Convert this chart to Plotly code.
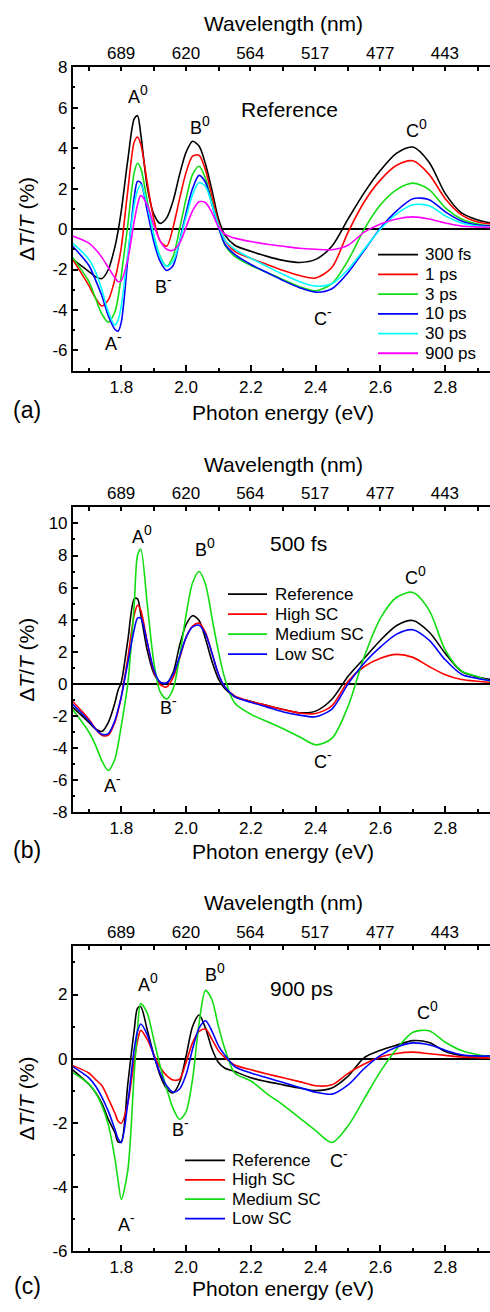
import plotly.graph_objects as go

# ---------------- data ----------------
ENERGY = [1.65, 1.70, 1.72, 1.74, 1.76, 1.78, 1.79, 1.80, 1.82, 1.84, 1.85, 1.86,
          1.88, 1.90, 1.92, 1.94, 1.96, 1.98, 2.00, 2.02, 2.04, 2.06, 2.08, 2.10,
          2.12, 2.15, 2.20, 2.25, 2.30, 2.35, 2.40, 2.45, 2.50, 2.55, 2.60, 2.65,
          2.70, 2.75, 2.80, 2.85, 2.90, 2.94]

# panel (a): Reference sample at several delays
A_NAMES = ["300 fs", "1 ps", "3 ps", "10 ps", "30 ps", "900 ps"]
A_300FS = [-1.5, -2.1, -2.35, -2.45, -2.0, -0.9, -0.1, 0.9, 3.4, 5.45, 5.6, 4.7,
           2.1, 0.75, 0.28, 0.55, 1.4, 2.7, 3.8, 4.34, 4.1, 3.2, 1.9, 0.5,
           -0.3, -0.8, -1.1, -1.35, -1.55, -1.65, -1.5, -0.85, 0.5, 1.8, 2.9, 3.75,
           4.05, 3.3, 1.75, 0.8, 0.45, 0.3]
A_1PS = [-1.5, -2.8, -3.4, -3.8, -3.5, -2.5, -1.8, -0.9, 1.9, 4.3, 4.55, 4.2,
         2.3, 0.5, -0.6, -0.85, 0.1, 1.5, 2.8, 3.6, 3.65, 2.9, 1.6, 0.3,
         -0.55, -1.1, -1.45, -1.75, -2.05, -2.3, -2.42, -1.9, -0.15, 1.35, 2.43, 3.15,
         3.37, 2.7, 1.5, 0.7, 0.35, 0.25]
A_3PS = [-1.4, -2.6, -3.4, -4.2, -4.6, -4.1, -3.4, -2.3, 0.2, 2.8, 3.25, 3.0,
         1.4, -0.3, -1.35, -1.85, -1.35, 0.0, 1.5, 2.7, 3.1, 2.5, 1.3, 0.1,
         -0.8, -1.35, -1.8, -2.15, -2.5, -2.85, -3.05, -2.7, -1.55, 0.0, 1.2, 1.95,
         2.27, 1.95, 1.05, 0.5, 0.25, 0.15]
A_10PS = [-0.85, -1.8, -2.5, -3.3, -4.3, -4.95, -5.05, -4.6, -1.5, 1.6, 2.35, 2.3,
          0.9, -0.6, -1.6, -2.05, -1.8, -0.6, 0.8, 2.0, 2.65, 2.3, 1.2, 0.1,
          -0.75, -1.25, -1.75, -2.15, -2.55, -2.9, -3.12, -2.95, -2.15, -1.05, 0.05, 0.9,
          1.5, 1.45, 0.85, 0.4, 0.2, 0.15]
A_30PS = [-0.7, -1.5, -2.1, -3.0, -4.1, -4.75, -4.5, -3.8, -1.2, 1.2, 1.9, 2.2,
          1.2, -0.3, -1.4, -1.85, -1.6, -0.6, 0.6, 1.7, 2.3, 2.1, 1.2, 0.2,
          -0.55, -1.0, -1.45, -1.85, -2.25, -2.6, -2.82, -2.7, -2.0, -1.0, 0.0, 0.75,
          1.2, 1.15, 0.65, 0.3, 0.15, 0.1]
A_900PS = [-0.35, -0.7, -1.0, -1.4, -1.9, -2.4, -2.6, -2.55, -1.5, 0.4, 1.2, 1.65,
           1.2, 0.2, -0.6, -1.0, -1.05, -0.7, 0.1, 0.9, 1.35, 1.3, 0.8, 0.1,
           -0.25, -0.45, -0.62, -0.75, -0.85, -0.95, -1.0, -1.02, -0.8, -0.15, 0.25, 0.5,
           0.6, 0.5, 0.3, 0.15, 0.1, 0.08]

# panel (b): 500 fs, four samples
B_NAMES = ["Reference", "High SC", "Medium SC", "Low SC"]
B_REF = [-1.45, -2.4, -2.8, -2.97, -2.4, -1.2, -0.4, 0.1, 2.7, 5.3, 5.3, 4.35,
         2.1, 0.67, 0.1, 0.05, 0.7, 2.4, 3.7, 4.25, 3.95, 2.8, 1.4, 0.3,
         -0.3, -0.8, -1.1, -1.35, -1.6, -1.8, -1.7, -0.96, 0.47, 1.6, 2.72, 3.64,
         3.95, 3.23, 1.9, 0.78, 0.43, 0.27]
B_HIGH = [-1.1, -2.2, -2.8, -3.2, -3.2, -2.4, -1.7, -0.8, 1.6, 4.3, 4.9, 4.6,
          2.6, 0.8, -0.05, -0.2, 0.4, 1.6, 2.9, 3.6, 3.78, 3.2, 1.9, 0.6,
          -0.2, -0.75, -1.1, -1.35, -1.6, -1.82, -1.85, -1.37, 0.16, 1.08, 1.6, 1.84,
          1.65, 1.08, 0.57, 0.27, 0.16, 0.1]
B_MEDIUM = [-1.6, -3.0, -3.8, -4.8, -5.4, -4.7, -3.8, -2.6, 0.0, 5.0, 8.0, 8.4,
            5.0, 1.4, -0.5, -0.95, -0.3, 1.7, 4.3, 6.3, 7.0, 6.2, 4.1, 2.0,
            0.3, -1.2, -1.9, -2.35, -2.8, -3.3, -3.8, -3.4, -1.4, 1.7, 4.1, 5.4,
            5.7, 4.6, 2.1, 0.8, 0.45, 0.16]
B_LOW = [-1.27, -2.3, -2.8, -3.15, -3.1, -2.3, -1.6, -0.8, 1.3, 3.4, 4.1, 4.1,
         2.6, 0.9, 0.1, 0.05, 0.6, 1.7, 2.9, 3.55, 3.65, 3.1, 1.9, 0.6,
         -0.2, -0.8, -1.15, -1.45, -1.75, -1.95, -2.05, -1.57, 0.0, 1.3, 2.3, 3.1,
         3.37, 2.72, 1.5, 0.6, 0.33, 0.2]

# panel (c): 900 ps, four samples
C_NAMES = ["Reference", "High SC", "Medium SC", "Low SC"]
C_REF = [-0.35, -0.8, -1.05, -1.4, -1.9, -2.3, -2.6, -2.6, -0.8, 0.9, 1.57, 1.62,
         0.9, 0.13, -0.53, -0.94, -1.07, -0.74, 0.08, 1.0, 1.36, 0.95, 0.3, -0.12,
         -0.3, -0.4, -0.6, -0.72, -0.82, -0.92, -1.0, -0.92, -0.55, 0.03, 0.26, 0.42,
         0.56, 0.5, 0.22, 0.1, 0.08, 0.08]
C_HIGH = [-0.22, -0.45, -0.65, -0.84, -1.25, -1.7, -1.95, -2.02, -1.4, -0.05, 0.55, 0.88,
          0.6, 0.13, -0.28, -0.53, -0.67, -0.64, -0.12, 0.5, 0.85, 0.92, 0.6, 0.24,
          0.03, -0.2, -0.35, -0.48, -0.6, -0.72, -0.85, -0.82, -0.46, -0.17, 0.05, 0.16,
          0.2, 0.15, 0.1, 0.05, 0.03, 0.02]
C_MEDIUM = [-0.43, -0.79, -1.05, -1.46, -2.07, -3.1, -3.8, -4.4, -3.5, -0.43, 0.9, 1.72,
            1.42, 0.6, -0.23, -0.94, -1.56, -1.9, -1.66, -0.64, 1.1, 2.13, 1.83, 1.0,
            0.29, -0.45, -0.7, -1.1, -1.45, -1.85, -2.25, -2.62, -2.1, -1.25, -0.4, 0.3,
            0.82, 0.87, 0.51, 0.25, 0.12, 0.06]
C_LOW = [-0.25, -0.6, -0.85, -1.2, -1.65, -2.2, -2.5, -2.62, -1.4, 0.3, 0.85, 1.08,
         0.75, 0.1, -0.45, -0.85, -1.05, -0.95, -0.5, 0.3, 0.95, 1.18, 0.85, 0.4,
         0.1, -0.25, -0.45, -0.6, -0.75, -0.9, -1.05, -1.11, -0.82, -0.31, 0.1, 0.36,
         0.49, 0.43, 0.26, 0.12, 0.08, 0.08]

# axes
ENERGY_RANGE = [1.65, 2.938]
WAVELENGTH_TICKS = [689, 620, 564, 517, 477, 443]
TOP_MINOR = [1.7, 1.9, 2.1, 2.3, 2.5, 2.7, 2.9]
Y_RANGES = [[-7, 8], [-8, 11], [-6, 3.5]]
Y_TICKS = [[-6, -4, -2, 0, 2, 4, 6, 8],
           [-8, -6, -4, -2, 0, 2, 4, 6, 8, 10],
           [-6, -4, -2, 0, 2]]

# ---------------- styling / layout ----------------
W, H = 490, 1312
FAMILY = "Liberation Sans, Arial, Helvetica, sans-serif"
COL6 = ["#000000", "#ff0000", "#12dd12", "#0000ff", "#00ffff", "#ff00ff"]
COL4 = ["#000000", "#ff0000", "#12dd12", "#0000ff"]


def fnt(size):
    return dict(family=FAMILY, size=size, color="black")


def px(x):
    return x / W


def py(y):
    return 1 - y / H


X_LEFT = 72.7
PANELS = [
    dict(top=59.0, bottom=367.0, names=A_NAMES, series=[A_300FS, A_1PS, A_3PS, A_10PS, A_30PS, A_900PS],
         colors=COL6, title_top=15, title_bot=409, label="(a)",
         legend=dict(x0=378, x1=418, xt=423, y0=249.3, dy=20.0),
         notes=[("A", "0", 1.846, 6.5), ("B", "0", 2.038, 5.0), ("C", "0", 2.707, 4.85),
                ("A", "-", 1.775, -5.7), ("B", "-", 1.93, -2.85), ("C", "-", 2.422, -4.45)],
         tag=("Reference", 2.32, 5.9)),
    dict(top=505.7, bottom=815.0, names=B_NAMES, series=[B_REF, B_HIGH, B_MEDIUM, B_LOW],
         colors=COL4, title_top=462, title_bot=855, label="(b)",
         legend=dict(x0=228, x1=267, xt=273, y0=593.8, dy=20.3),
         notes=[("A", "0", 1.859, 9.16), ("B", "0", 2.053, 8.36), ("C", "0", 2.704, 6.58),
                ("A", "-", 1.77, -6.36), ("B", "-", 1.945, -1.52), ("C", "-", 2.424, -4.9)],
         tag=("500 fs", 2.346, 8.73)),
    dict(top=951.25, bottom=1260.0, names=C_NAMES, series=[C_REF, C_HIGH, C_MEDIUM, C_LOW],
         colors=COL4, title_top=907, title_bot=1298, label="(c)",
         legend=dict(x0=185, x1=225, xt=230, y0=1168.3, dy=19.7),
         notes=[("A", "0", 1.876, 2.29), ("B", "0", 2.082, 2.6), ("C", "0", 2.741, 1.42),
                ("A", "-", 1.815, -5.2), ("B", "-", 1.98, -2.24), ("C", "-", 2.473, -3.2)],
         tag=("900 ps", 2.356, 2.2)),
]

fig = go.Figure()
layout = dict(width=W, height=H, margin=dict(l=0, r=0, t=0, b=0),
              paper_bgcolor="white", plot_bgcolor="white", showlegend=False,
              font=fnt(17))
annotations = []
shapes = []

top_vals = [1239.84 / w for w in WAVELENGTH_TICKS]
top_text = [str(w) for w in WAVELENGTH_TICKS]

for i, p in enumerate(PANELS):
    xb = "x" if i == 0 else f"x{2 * i + 1}"
    xt = f"x{2 * i + 2}"
    yn = "y" if i == 0 else f"y{i + 1}"
    xb_key = "xaxis" if i == 0 else f"xaxis{2 * i + 1}"
    xt_key = f"xaxis{2 * i + 2}"
    y_key = "yaxis" if i == 0 else f"yaxis{i + 1}"

    for name, vals, col in zip(p["names"], p["series"], p["colors"]):
        fig.add_trace(go.Scatter(x=ENERGY, y=vals, mode="lines", name=name,
                                 line=dict(color=col, width=1.6, shape="spline", smoothing=0.8),
                                 xaxis=xb, yaxis=yn, showlegend=False))

    common = dict(range=ENERGY_RANGE, showline=True, linecolor="black", linewidth=1.5,
                  ticks="inside", tickcolor="black", tickwidth=1.5, ticklen=6,
                  showgrid=False, zeroline=False, tickfont=fnt(17))
    layout[xb_key] = dict(common, domain=[px(X_LEFT), 1.0], anchor=yn,
                          tickmode="linear", tick0=1.8, dtick=0.2, tickformat=".1f",
                          minor=dict(dtick=0.1, tick0=1.7, ticks="inside", ticklen=3,
                                     tickwidth=1.5, tickcolor="black"))
    layout[xt_key] = dict(common, overlaying=xb, anchor=yn, side="top",
                          tickmode="array", tickvals=top_vals, ticktext=top_text, ticklen=4,
                          minor=dict(tickmode="array", tickvals=TOP_MINOR, ticks="inside",
                                     ticklen=4, tickwidth=1.5, tickcolor="black"))
    layout[y_key] = dict(domain=[py(p["bottom"]), py(p["top"])], anchor=xb,
                         range=Y_RANGES[i], showline=True, linecolor="black", linewidth=1.5,
                         ticks="inside", tickcolor="black", tickwidth=1.5, ticklen=6,
                         tickmode="array", tickvals=Y_TICKS[i], ticktext=[str(v) for v in Y_TICKS[i]],
                         minor=dict(dtick=1, ticks="inside", ticklen=3, tickwidth=1.5, tickcolor="black"),
                         showgrid=False, zeroline=True, zerolinecolor="black", zerolinewidth=1.5,
                         tickfont=fnt(17))
    # empty trace so the top (wavelength) axis is drawn
    fig.add_trace(go.Scatter(x=[None], y=[None], xaxis=xt, yaxis=yn, showlegend=False,
                             hoverinfo="skip"))

    # axis titles
    annotations.append(dict(text="Wavelength (nm)", xref="paper", yref="paper",
                            x=px(283), y=py(p["title_top"]), showarrow=False,
                            xanchor="center", yanchor="middle", font=fnt(21)))
    annotations.append(dict(text="Photon energy (eV)", xref="paper", yref="paper",
                            x=px(283), y=py(p["title_bot"]), showarrow=False,
                            xanchor="center", yanchor="middle", font=fnt(21)))
    annotations.append(dict(text="\u0394<i>T</i>/<i>T</i> (%)", xref="paper", yref="paper",
                            x=px(27), y=py((p["top"] + p["bottom"]) / 2), showarrow=False,
                            textangle=-90, xanchor="center", yanchor="middle", font=fnt(21)))
    annotations.append(dict(text=p["label"], xref="paper", yref="paper",
                            x=px(27), y=py(p["title_bot"] - 2), showarrow=False,
                            xanchor="center", yanchor="middle", font=fnt(23)))
    # peak labels: letter + raised small index (separate texts, no padding)
    for letter, idx, ex, ey in p["notes"]:
        annotations.append(dict(text=letter, xref=xb, yref=yn, x=ex, y=ey, showarrow=False,
                                xanchor="right", yanchor="middle", xshift=5, borderpad=0,
                                font=fnt(18)))
        annotations.append(dict(text=idx, xref=xb, yref=yn, x=ex, y=ey, showarrow=False,
                                xanchor="left", yanchor="middle", xshift=3, yshift=7, borderpad=0,
                                font=fnt(14)))
    t, tx, ty = p["tag"]
    annotations.append(dict(text=t, xref=xb, yref=yn, x=tx, y=ty, showarrow=False,
                            xanchor="center", yanchor="middle", font=fnt(21)))
    # legend drawn as line samples + labels
    lg = p["legend"]
    for k, (name, col) in enumerate(zip(p["names"], p["colors"])):
        yy = py(lg["y0"] + k * lg["dy"])
        shapes.append(dict(type="line", xref="paper", yref="paper",
                           x0=px(lg["x0"]), x1=px(lg["x1"]), y0=yy, y1=yy,
                           line=dict(color=col, width=1.8)))
        annotations.append(dict(text=name, xref="paper", yref="paper", x=px(lg["xt"]), y=yy,
                                showarrow=False, xanchor="left", yanchor="middle",
                                font=fnt(17)))

layout["annotations"] = annotations
layout["shapes"] = shapes
fig.update_layout(**layout)

fig.write_html("out.html", config={"displayModeBar": False},
               post_script="document.body.style.margin='0';")
